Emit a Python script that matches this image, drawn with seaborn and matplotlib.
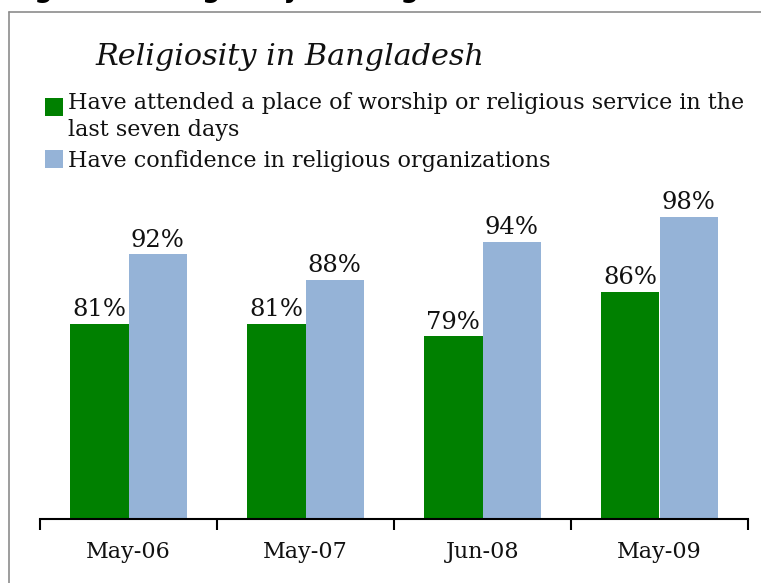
import matplotlib
matplotlib.use("Agg")
import matplotlib.pyplot as plt
from matplotlib.lines import Line2D
from matplotlib.patches import Rectangle
import seaborn as sns
import pandas as pd

# Survey waves and the share of respondents (%) for each measure
periods = ["May-06", "May-07", "Jun-08", "May-09"]
attended = [81, 81, 79, 86]
confidence = [92, 88, 94, 98]
series_names = [
    "Have attended a place of worship or religious service in the\nlast seven days",
    "Have confidence in religious organizations",
]
colors = ["#008000", "#95B3D7"]

df = pd.DataFrame({
    "period": periods * 2,
    "value": attended + confidence,
    "series": [series_names[0]] * len(periods) + [series_names[1]] * len(periods),
})

sns.set_theme(style="white")
plt.rcParams["font.family"] = ["DejaVu Serif"]

W, H = 761, 583
fig = plt.figure(figsize=(W / 100, H / 100), dpi=100)


def fx(px):
    return px / W


def fy(py):
    return 1 - py / H


ax = fig.add_axes([fx(40), 64 / H, 708 / W, 315 / H])

sns.barplot(data=df, x="period", y="value", hue="series", palette=colors,
            width=0.66, dodge=True, ax=ax, legend=False, saturation=1,
            edgecolor="none", linewidth=0)

ax.set_ylim(50, 100)
ax.set_xlim(-0.5, 3.5)
ax.set_xlabel("")
ax.set_ylabel("")
ax.set_yticks([])

# Value labels above every bar
for container in ax.containers:
    ax.bar_label(container, labels=[f"{v:.0f}%" for v in container.datavalues],
                 padding=2, fontsize=17.5, color="#111111")

# Category separators as ticks, labels centred between them
ax.set_xticks([-0.5, 0.5, 1.5, 2.5, 3.5])
ax.set_xticklabels([])
ax.set_xticks(range(len(periods)), minor=True)
ax.set_xticklabels(periods, minor=True, fontsize=16, color="#111111")
ax.tick_params(axis="x", which="major", direction="out", length=8, width=1.5,
               color="black", bottom=True)
ax.tick_params(axis="x", which="minor", length=0, pad=16)

for side in ["top", "right", "left"]:
    ax.spines[side].set_visible(False)
ax.spines["bottom"].set_color("black")
ax.spines["bottom"].set_linewidth(1.5)

# Legend: colour swatches with wrapped labels
legend_rows = [(98, 136), (150, 167)]  # swatch top, last-line baseline (px)
for color, name, (sq_top, base) in zip(colors, series_names, legend_rows):
    fig.add_artist(Rectangle((fx(45), fy(sq_top + 18)), 18 / W, 18 / H,
                             facecolor=color, edgecolor="none",
                             transform=fig.transFigure))
    fig.text(fx(68), fy(base), name, fontsize=16, va="baseline", ha="left",
             color="#111111", linespacing=1.3)

# Title
fig.text(fx(95), fy(57), "Religiosity in Bangladesh", fontsize=21.8,
         style="italic", va="center", ha="left", color="#111111")

# Caption line above the frame
fig.text(fx(8), fy(-3), "Figure 3: Religiosity in Bangladesh", fontsize=18.5,
         weight="bold", family="DejaVu Sans", va="baseline", ha="left",
         color="black")

# Frame around the chart
fig.add_artist(Line2D([fx(9), 1.0], [fy(12), fy(12)],
                      color="#8c8c8c", lw=1.2, transform=fig.transFigure))
fig.add_artist(Line2D([fx(9), fx(9)], [0, fy(12)],
                      color="#8c8c8c", lw=1.2, transform=fig.transFigure))

fig.savefig("out.png", dpi=100)
